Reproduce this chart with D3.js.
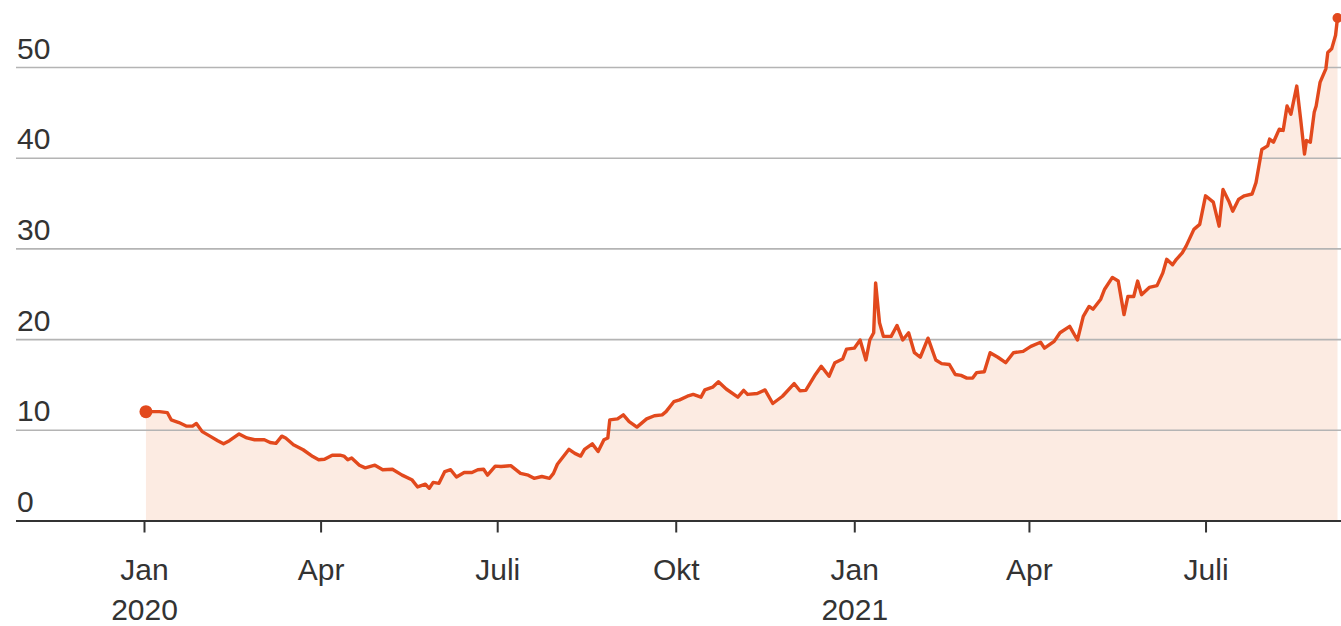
<!DOCTYPE html>
<html>
<head>
<meta charset="utf-8">
<script src="https://cdn.jsdelivr.net/npm/d3@7"></script>
<style>
  html, body { margin: 0; padding: 0; background: #ffffff; }
  svg { display: block; }
  text { font-family: "Liberation Sans", Arial, sans-serif; fill: #333333; }
</style>
</head>
<body>
<svg id="chart" width="1341" height="626"></svg>
<script>
// ---- Data ----
const dates = [
  "2020-01-02","2020-01-09","2020-01-13","2020-01-15","2020-01-19","2020-01-23","2020-01-26","2020-01-28","2020-01-31",
  "2020-02-04","2020-02-08","2020-02-11","2020-02-14","2020-02-19","2020-02-23","2020-02-27",
  "2020-03-03","2020-03-06","2020-03-09","2020-03-12","2020-03-14","2020-03-18","2020-03-23","2020-03-28","2020-03-31",
  "2020-04-03","2020-04-07","2020-04-11","2020-04-13","2020-04-15","2020-04-17","2020-04-21","2020-04-24","2020-04-29",
  "2020-05-03","2020-05-08","2020-05-13","2020-05-18","2020-05-21","2020-05-25","2020-05-27","2020-05-29",
  "2020-06-01","2020-06-04","2020-06-07","2020-06-10","2020-06-14","2020-06-18","2020-06-21","2020-06-24","2020-06-26","2020-06-30",
  "2020-07-03","2020-07-08","2020-07-13","2020-07-17","2020-07-20","2020-07-24","2020-07-28","2020-07-30",
  "2020-08-01","2020-08-07","2020-08-10","2020-08-13","2020-08-15","2020-08-19","2020-08-22","2020-08-25","2020-08-27","2020-08-28",
  "2020-09-01","2020-09-04","2020-09-07","2020-09-11","2020-09-16","2020-09-20","2020-09-24","2020-09-26","2020-09-30",
  "2020-10-03","2020-10-07","2020-10-10","2020-10-14","2020-10-16","2020-10-20","2020-10-23","2020-10-27",
  "2020-11-02","2020-11-05","2020-11-07","2020-11-12","2020-11-16","2020-11-20","2020-11-25",
  "2020-12-01","2020-12-04","2020-12-07","2020-12-12","2020-12-15","2020-12-19","2020-12-22","2020-12-26","2020-12-28",
  "2021-01-01","2021-01-04","2021-01-07","2021-01-09","2021-01-11","2021-01-12","2021-01-14","2021-01-16","2021-01-20","2021-01-23","2021-01-26","2021-01-29",
  "2021-02-01","2021-02-04","2021-02-08","2021-02-12","2021-02-15","2021-02-19","2021-02-22","2021-02-25","2021-02-28",
  "2021-03-03","2021-03-05","2021-03-09","2021-03-12","2021-03-16","2021-03-20","2021-03-24","2021-03-29",
  "2021-04-02","2021-04-07","2021-04-09","2021-04-14","2021-04-17","2021-04-22","2021-04-26","2021-04-29",
  "2021-05-02","2021-05-04","2021-05-08","2021-05-10","2021-05-14","2021-05-17","2021-05-20","2021-05-22","2021-05-25","2021-05-27","2021-05-29",
  "2021-06-02","2021-06-06","2021-06-09","2021-06-11","2021-06-14","2021-06-16","2021-06-19","2021-06-21","2021-06-25","2021-06-28",
  "2021-07-01","2021-07-05","2021-07-08","2021-07-10","2021-07-13","2021-07-15","2021-07-18","2021-07-21","2021-07-25","2021-07-27","2021-07-30",
  "2021-08-02","2021-08-03","2021-08-05","2021-08-08","2021-08-10","2021-08-12","2021-08-14","2021-08-17","2021-08-19","2021-08-21","2021-08-22","2021-08-24","2021-08-26","2021-08-27","2021-08-29",
  "2021-09-01","2021-09-02","2021-09-04","2021-09-06","2021-09-07"
];
const values = [
  12.0,12.0,11.9,11.1,10.8,10.4,10.4,10.7,9.8,
  9.3,8.8,8.45,8.8,9.55,9.1,8.9,
  8.9,8.6,8.5,9.3,9.1,8.35,7.8,7.05,6.7,
  6.75,7.2,7.2,7.1,6.7,6.9,6.1,5.8,6.1,
  5.6,5.65,5.0,4.5,3.7,4.0,3.55,4.2,
  4.1,5.4,5.6,4.8,5.3,5.3,5.6,5.65,5.0,6.0,
  5.95,6.05,5.2,5.0,4.65,4.85,4.65,5.2,
  6.2,7.85,7.4,7.1,7.85,8.45,7.6,8.9,9.1,11.1,
  11.2,11.65,10.9,10.3,11.2,11.55,11.65,12.0,13.1,
  13.3,13.7,13.9,13.6,14.4,14.7,15.3,14.5,
  13.6,14.35,13.9,14.0,14.4,12.9,13.7,
  15.1,14.3,14.35,16.1,17.0,15.9,17.4,17.8,18.9,
  19.0,19.9,17.7,19.9,20.7,26.2,21.8,20.3,20.3,21.5,19.9,20.7,
  18.5,18.0,20.1,17.7,17.3,17.2,16.1,16.0,15.7,
  15.7,16.3,16.4,18.5,18.0,17.4,18.5,18.65,
  19.2,19.65,19.0,19.75,20.7,21.4,19.9,22.5,
  23.6,23.3,24.4,25.5,26.8,26.4,22.7,24.7,24.7,26.4,24.9,
  25.7,25.9,27.3,28.8,28.2,28.8,29.5,30.25,32.1,32.65,
  35.8,35.1,32.45,36.5,35.2,34.1,35.4,35.8,36.0,37.25,40.9,
  41.3,42.05,41.7,43.15,43.0,45.7,44.8,47.9,44.25,40.4,41.9,41.7,45.0,45.7,48.3,
  49.8,51.6,52.0,53.5,55.4
];
const yTicks = [0, 10, 20, 30, 40, 50];
const xTickDates = ["2020-01-01","2020-04-01","2020-07-01","2020-10-01","2021-01-01","2021-04-01","2021-07-01"];
const xTickLabels = [["Jan","2020"],["Apr"],["Juli"],["Okt"],["Jan","2021"],["Apr"],["Juli"]];

// ---- Drawing ----
const parse = d3.utcParse("%Y-%m-%d");
const data = dates.map((d, i) => ({ date: parse(d), value: values[i] }));

const svg = d3.select("#chart");
const W = 1341;
const left = 16;

const x = d3.scaleUtc()
  .domain([parse("2020-01-01"), parse("2021-09-07")])
  .range([144, 1337.5]);
const y = d3.scaleLinear().domain([0, 50]).range([520.5, 67]);

// area
svg.append("path")
  .datum(data)
  .attr("fill", "#fcebe2")
  .attr("d", d3.area().x(d => x(d.date)).y0(y(0)).y1(d => y(d.value)));

// gridlines + y labels
const yAxis = d3.axisLeft(y).tickValues(yTicks).tickSize(-(W - left)).tickFormat(d3.format("d"));
const gy = svg.append("g").attr("transform", `translate(${left},0)`).call(yAxis);
gy.select(".domain").remove();
gy.selectAll(".tick line")
  .attr("stroke", d => d === 0 ? "#333333" : "#b4b4b4")
  .attr("stroke-width", d => d === 0 ? 2.2 : 1.6)
  .attr("x1", 0).attr("x2", W - left);
gy.selectAll(".tick text")
  .attr("x", 1).attr("dy", null).attr("y", -9)
  .attr("text-anchor", "start")
  .style("font-size", "30px")
  .style("font-family", "'Liberation Sans', Arial, sans-serif")
  .attr("fill", "#333333");

// x axis ticks
const xAxis = d3.axisBottom(x)
  .tickValues(xTickDates.map(parse))
  .tickSize(12)
  .tickFormat("");
const gx = svg.append("g").attr("transform", `translate(0,${y(0)})`).call(xAxis);
gx.select(".domain").remove();
gx.selectAll(".tick line").attr("stroke", "#333333").attr("stroke-width", 2);
gx.selectAll(".tick").each(function(d, i) {
  const t = d3.select(this).append("text")
    .attr("text-anchor", "middle")
    .style("font-size", "30px")
    .attr("fill", "#333333");
  xTickLabels[i].forEach((s, j) => {
    t.append("tspan").attr("x", 0).attr("y", 59 + j * 40).text(s);
  });
});

// line
svg.append("path")
  .datum(data)
  .attr("fill", "none")
  .attr("stroke", "#e2491d")
  .attr("stroke-width", 3.4)
  .attr("stroke-linejoin", "round")
  .attr("d", d3.line().x(d => x(d.date)).y(d => y(d.value)));

// end dots
const first = data[0], last = data[data.length - 1];
svg.append("circle").attr("cx", x(first.date)).attr("cy", y(first.value)).attr("r", 6.5).attr("fill", "#e2491d");
svg.append("circle").attr("cx", x(last.date)).attr("cy", y(last.value)).attr("r", 5).attr("fill", "#e2491d");
</script>
</body>
</html>
